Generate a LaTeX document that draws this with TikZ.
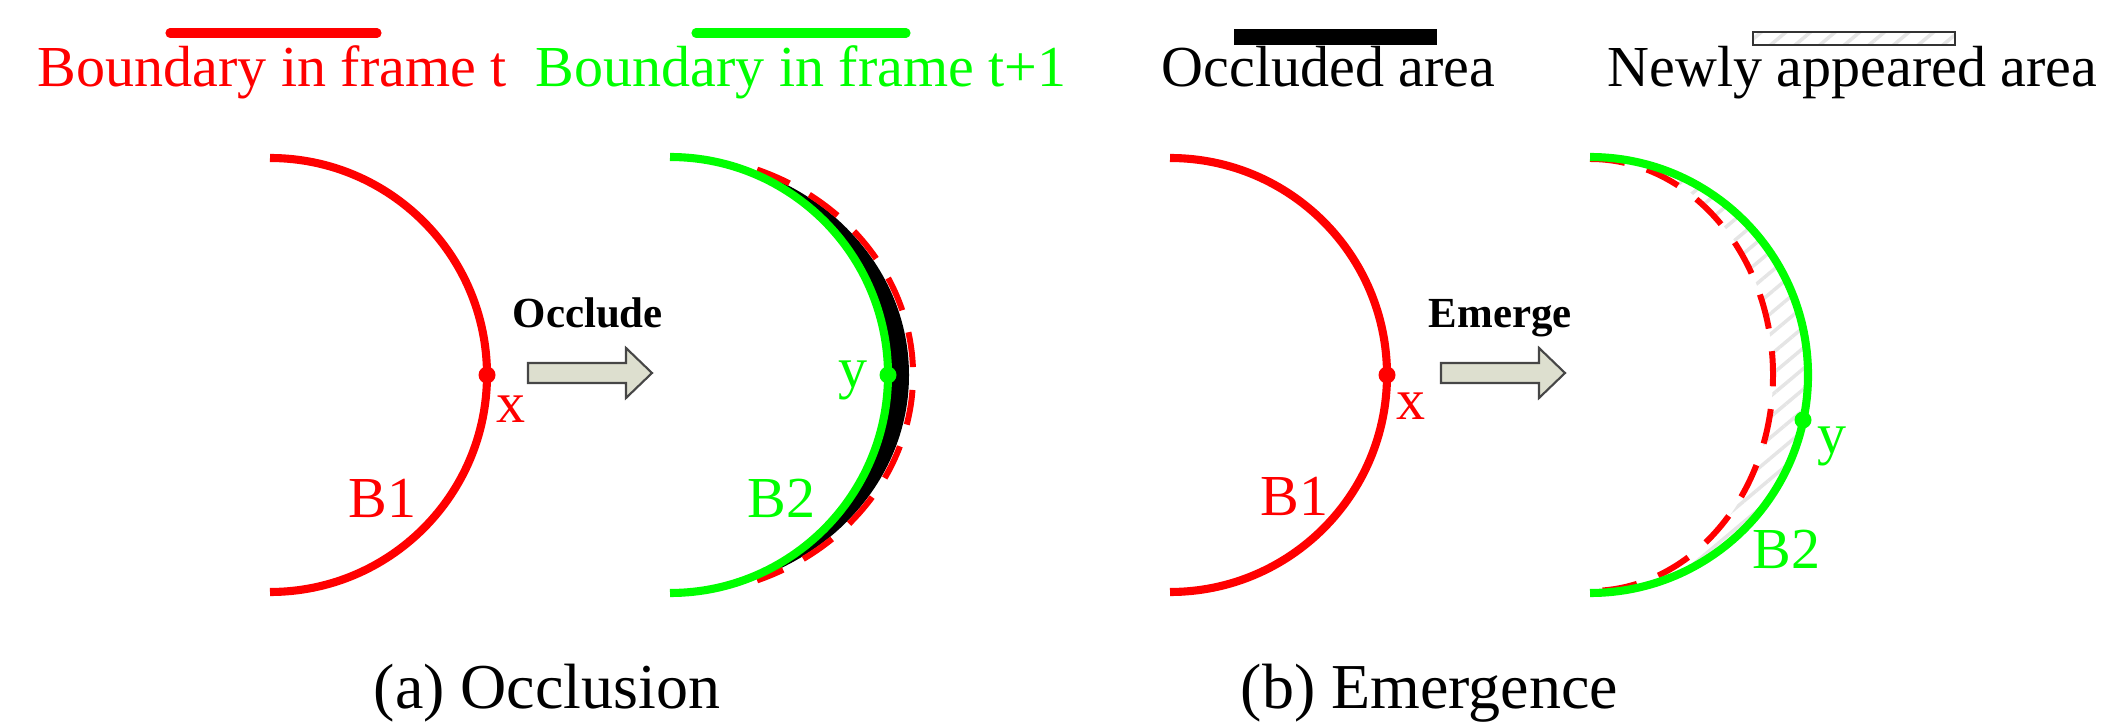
\documentclass[tikz,border=0pt]{standalone}
\usepackage{fontspec}
\setmainfont{Liberation Serif}
\usetikzlibrary{patterns.meta}
\definecolor{pred}{RGB}{255,0,0}
\definecolor{pgreen}{RGB}{0,255,0}
\definecolor{arrfill}{RGB}{221,223,207}
\definecolor{arrdraw}{RGB}{70,70,70}
\tikzset{
  x=0.01cm, y=0.01cm,
  lbl/.style={anchor=base west, inner sep=0pt, font=\fontsize{16.5}{18}\selectfont},
  captxt/.style={anchor=base west, inner sep=0pt, font=\fontsize{18.2}{20}\selectfont},
  act/.style={anchor=base west, inner sep=0pt, font=\fontsize{12.2}{14}\selectfont\bfseries},
  bnd/.style={line width=2.3pt},
  reddash/.style={draw=pred, line width=1.7pt, dash pattern=on 10pt off 6.5pt},
  dot/.style={circle, inner sep=0pt, minimum size=0.17cm},
  blockarrow/.style={fill=arrfill, draw=arrdraw, line width=0.6pt, line join=miter},
  newarea/.style={pattern={Lines[angle=40,distance=4.5pt,line width=1pt]}, pattern color=gray!20},
}
\begin{document}
\begin{tikzpicture}
\useasboundingbox (0,0) rectangle (2113,-725);
% ---------- legend ----------
\draw[pred, line width=2.6pt, line cap=round] (170,-33) -- (377,-33);
\node[lbl, text=pred] (lt) at (37,-87) {Boundary in frame t};
\draw[pgreen, line width=2.6pt, line cap=round] (696,-33) -- (906,-33);
\node[lbl, text=pgreen] (lt1) at (535,-87) {Boundary in frame t+1};
\fill[black] (1234,-29) rectangle (1437,-45);
\node[lbl] (locc) at (1161,-87) {Occluded area};
\fill[white] (1753,-32) rectangle (1955,-45);
\fill[newarea] (1753,-32) rectangle (1955,-45);
\draw[black!80, line width=0.7pt] (1753,-32) rectangle (1955,-45);
\node[lbl] (lnew) at (1607,-87) {Newly appeared area};
% ---------- (a) occlusion ----------
\draw[pred, bnd] (270,-375) ++(90:217) arc[start angle=90, end angle=-90, radius=217];
\node[dot, fill=pred] (xa) at (487,-375) {};
\node[lbl, text=pred] (xla) at (496,-423) {x};
\node[lbl, text=pred] (b1a) at (348,-518) {B1};
\node[act] (occ) at (512,-328) {Occlude};
\draw[blockarrow] (528,-363) -- (626,-363) -- (626,-348) -- (652,-373) -- (626,-398) -- (626,-383) -- (528,-383) -- cycle;
% crescent
\fill[black] (670,-375) ++(90:218) arc[start angle=90, end angle=-90, radius=218]
   arc[start angle=-90, end angle=90, x radius=239, y radius=218] -- cycle;
\draw[reddash] (670,-375) ++(69:243 and 220) arc[start angle=69, end angle=-69, x radius=243, y radius=220];
\draw[pgreen, bnd] (670,-375) ++(90:218) arc[start angle=90, end angle=-90, radius=218];
\node[dot, fill=pgreen] (ya) at (888,-375) {};
\node[lbl, text=pgreen] (yla) at (838,-388) {y};
\node[lbl, text=pgreen] (b2a) at (747,-518) {B2};
\node[captxt] (capa) at (373,-708) {(a) Occlusion};
% ---------- (b) emergence ----------
\draw[pred, bnd] (1170,-375) ++(90:217) arc[start angle=90, end angle=-90, radius=217];
\node[dot, fill=pred] (xb) at (1387,-375) {};
\node[lbl, text=pred] (xlb) at (1396,-420) {x};
\node[lbl, text=pred] (b1b) at (1260,-515) {B1};
\node[act] (emg) at (1428,-328) {Emerge};
\draw[blockarrow] (1441,-363) -- (1539,-363) -- (1539,-348) -- (1565,-373) -- (1539,-398) -- (1539,-383) -- (1441,-383) -- cycle;
\fill[newarea] (1590,-375) ++(90:218) arc[start angle=90, end angle=-90, radius=218]
   arc[start angle=-90, end angle=90, x radius=183, y radius=218] -- cycle;
\draw[reddash] (1590,-375) ++(90:183 and 216) arc[start angle=90, end angle=-90, x radius=183, y radius=216];
\draw[pgreen, bnd] (1590,-375) ++(90:218) arc[start angle=90, end angle=-90, radius=218];
\node[dot, fill=pgreen] (yb) at (1803,-420) {};
\node[lbl, text=pgreen] (ylb) at (1817,-454) {y};
\node[lbl, text=pgreen] (b2b) at (1752,-568) {B2};
\node[captxt] (capb) at (1240,-708) {(b) Emergence};
\end{tikzpicture}
\end{document}
